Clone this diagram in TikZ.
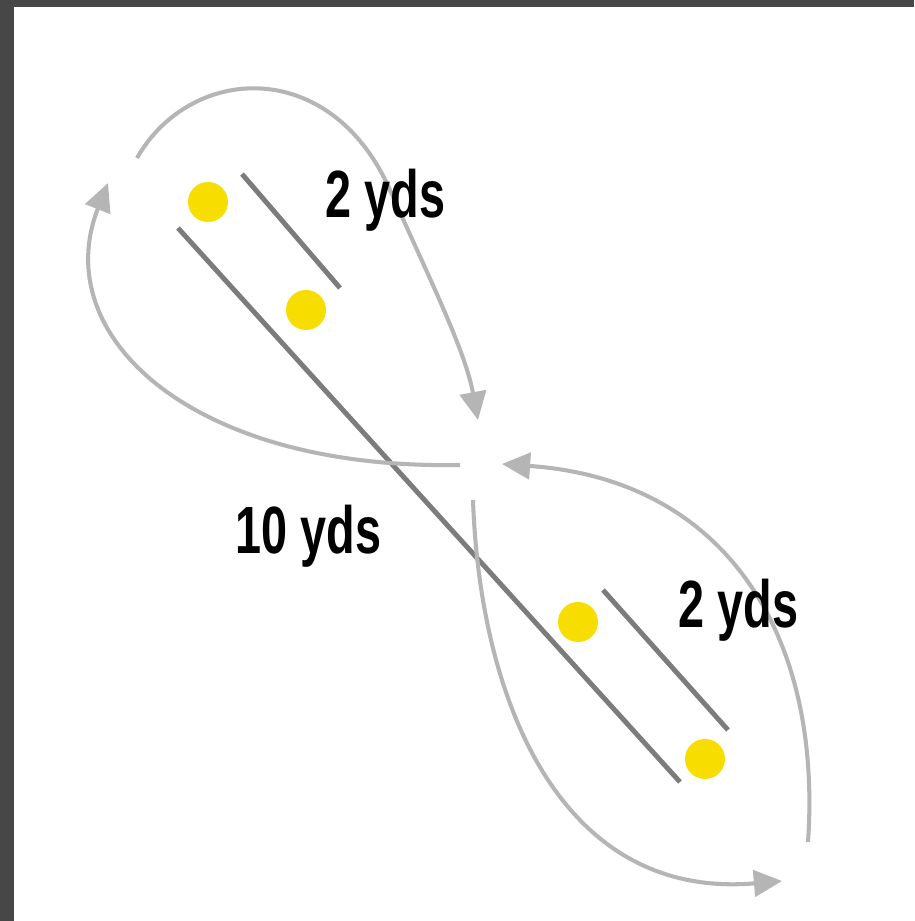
\documentclass[tikz,border=0pt]{standalone}
\usepackage{fontspec}
\newfontfamily\ydsfont[FakeStretch=0.7]{Liberation Sans}
\usetikzlibrary{arrows.meta}
\definecolor{frame}{HTML}{474747}
\definecolor{cone}{HTML}{F7DE00}
\definecolor{track}{HTML}{7C7C7C}
\definecolor{run}{HTML}{B5B5B5}
\tikzset{
  cone/.style={circle,fill=cone,minimum size=0.4cm,inner sep=0pt},
  track/.style={draw=track,line width=1.4pt},
  run/.style={draw=run,line width=1.15pt,-{Triangle[length=8pt,width=7.5pt]}},
  yds/.style={font=\ydsfont\bfseries\fontsize{19}{19}\selectfont,inner sep=0pt,anchor=base west}
}
\begin{document}
\begin{tikzpicture}[x=0.01cm,y=-0.01cm]
    \useasboundingbox[fill=white] (0,0) rectangle (914,921);
    \fill[frame] (0,0) rectangle (914,7);
    \fill[frame] (0,0) rectangle (14,921);
    % cones
    \node[cone] (c1) at (208,202) {};
    \node[cone] (c2) at (306,310) {};
    \node[cone] (c3) at (578,622) {};
    \node[cone] (c4) at (705,759) {};
    % distance lines
    \coordinate (l1) at (178,228);
    \coordinate (l2) at (680,782);
    \coordinate (s1) at (242,174);
    \coordinate (s2) at (340,288);
    \coordinate (s3) at (603,590);
    \coordinate (s4) at (728,730);
    \foreach \u/\v in {l1/l2,s1/s2,s3/s4} { \draw[track] (\u) -- (\v); }
    % running paths
    \coordinate (a1) at (460,465);
    \coordinate (a2) at (108,183);
    \coordinate (b1) at (137,158);
    \coordinate (b2) at (478,420);
    \coordinate (d1) at (808,842);
    \coordinate (d2) at (502,464);
    \coordinate (e1) at (473,500);
    \coordinate (e2) at (782,881);
    \draw[run] (a1) .. controls (190,470) and (48,335) .. (a2);
    \draw[run] (b1) .. controls (190,65) and (330,55) .. (390,190) .. controls (430,280) and (465,350) .. (b2);
    \draw[run] (d1) .. controls (822,640) and (730,480) .. (d2);
    \draw[run] (e1) .. controls (480,700) and (560,900) .. (e2);
    % labels
    \node[yds] (t1) at (325,217) {2 yds};
    \node[yds] (t2) at (235,553) {10 yds};
    \node[yds] (t3) at (678,627) {2 yds};
  \end{tikzpicture}
\end{document}
